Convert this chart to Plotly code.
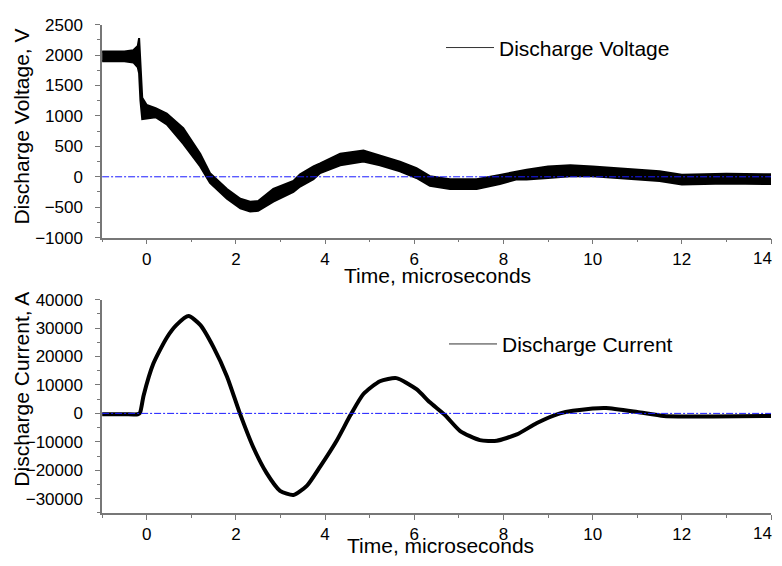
import plotly.graph_objects as go

# ---------------- data ----------------
v_time = [-1.0, -0.5, -0.3, -0.2, -0.17, -0.14, -0.1, 0.0, 0.2, 0.45, 0.82, 1.2, 1.42,
          1.8, 2.1, 2.32, 2.5, 2.84, 3.29, 3.44, 3.74, 3.89, 4.34, 4.86, 5.23, 5.68,
          6.05, 6.35, 6.8, 7.4, 7.92, 8.3, 8.52, 9.0, 9.5, 10.0, 10.5, 11.0, 11.5,
          12.0, 13.0, 14.0]
v_lower = [1900, 1900, 1880, 1800, 1700, 1250, 950, 960, 980, 860, 540, 170, -100,
           -360, -520, -570, -560, -410, -250, -160, -40, 60, 190, 250, 190, 90,
           -20, -150, -200, -200, -120, -40, -45, -20, 10, 10, -20, -45, -70,
           -125, -110, -120]
v_upper = [2060, 2060, 2080, 2150, 2280, 1750, 1300, 1180, 1130, 1040, 800, 380, 60,
           -200, -360, -410, -400, -200, -70, 40, 170, 220, 380, 430, 350, 250,
           140, 10, -40, -40, 30, 90, 115, 170, 190, 170, 140, 115, 90,
           35, 50, 40]

i_time = [-1.0, -0.5, -0.2, -0.15, -0.07, 0.15, 0.45, 0.67, 0.94, 1.2, 1.5, 1.8, 2.09,
          2.39, 2.69, 2.99, 3.29, 3.59, 3.89, 4.26, 4.57, 4.86, 5.23, 5.6, 6.05, 6.35,
          6.69, 7.03, 7.47, 7.85, 8.3, 8.75, 9.27, 10.0, 10.3, 11.0, 11.6, 12.7, 14.0]
i_current = [-300, -300, -300, 200, 6200, 17500, 26600, 31100, 34200, 31100, 23200, 13000, 0,
             -11900, -21000, -27200, -28700, -25500, -18700, -9600, -600, 6800, 11300, 12400, 8500, 3900,
             -600, -6200, -9400, -9600, -7400, -3400, 0, 1700, 1900, 500, -900, -1100, -900]

zero_time = [-1, 14]
zero_level = [0, 0]

x_ticks = [0, 2, 4, 6, 8, 10, 12, 14]
x_ticktext = ["0", "2", "4", "6", "8", "10", "12", "14"]

FONT = "Arial, Liberation Sans, sans-serif"
# page is 782x566; the body keeps its default 8px margin, so the figure is 766x550
W, H = 766, 550
OFF = 8

fig = go.Figure()

# voltage band (top)
fig.add_trace(go.Scatter(x=v_time, y=v_lower, mode="lines", line=dict(color="black", width=2),
                         showlegend=False, xaxis="x", yaxis="y", hoverinfo="skip"))
fig.add_trace(go.Scatter(x=v_time, y=v_upper, mode="lines", line=dict(color="black", width=2),
                         fill="tonexty", fillcolor="black",
                         showlegend=False, xaxis="x", yaxis="y", hoverinfo="skip"))
fig.add_trace(go.Scatter(x=zero_time, y=zero_level, mode="lines",
                         line=dict(color="#1a1aff", width=1, dash="7px,2px,2px,2px"),
                         showlegend=False, xaxis="x", yaxis="y"))
fig.add_trace(go.Scatter(x=[None], y=[None], mode="lines", name="Discharge Voltage",
                         line=dict(color="#333333", width=1), xaxis="x", yaxis="y",
                         legend="legend"))

# current (bottom)
fig.add_trace(go.Scatter(x=i_time, y=i_current, mode="lines",
                         line=dict(color="black", width=4, shape="spline", smoothing=0.6),
                         showlegend=False, xaxis="x2", yaxis="y2"))
fig.add_trace(go.Scatter(x=zero_time, y=zero_level, mode="lines",
                         line=dict(color="#1a1aff", width=1, dash="7px,2px,2px,2px"),
                         showlegend=False, xaxis="x2", yaxis="y2"))
fig.add_trace(go.Scatter(x=[None], y=[None], mode="lines", name="Discharge Current",
                         line=dict(color="#333333", width=1), xaxis="x2", yaxis="y2",
                         legend="legend2"))


def px_x(p):
    return (p - OFF) / W


def px_y(p):
    return 1 - (p - OFF) / H


axis_common = dict(
    showline=True, linecolor="#777777", linewidth=1.5, mirror=False,
    ticks="outside", ticklen=5, tickwidth=1.2, tickcolor="#777777",
    showgrid=False, zeroline=False,
    tickfont=dict(family=FONT, size=17, color="black"),
)
minor_x = dict(dtick=1, tick0=0, ticks="outside", ticklen=3, tickwidth=1, tickcolor="#777777")

xdom = [px_x(102.1), px_x(771)]

# the last x label ("14") would run past the right edge of the figure, so it is
# drawn right-aligned at the edge instead of being cut off
x_last_label = [dict(text=x_ticktext[-1], x=1.0, y=px_y(yy), xref="paper", yref="paper",
                     showarrow=False, xanchor="right", yanchor="middle",
                     font=dict(family=FONT, size=17, color="black"))
                for yy in (258, 543)]

fig.update_layout(
    width=W, height=H,
    margin=dict(l=0, r=0, t=0, b=0),
    paper_bgcolor="white", plot_bgcolor="white",
    font=dict(family=FONT, size=17, color="black"),
    xaxis=dict(domain=xdom, range=[-1, 14], anchor="y",
               tickmode="array", tickvals=x_ticks, ticktext=x_ticktext,
               minor=minor_x, ticklabelstandoff=0, **axis_common),
    yaxis=dict(domain=[px_y(236.5), px_y(16)], range=[-1000, 2500], anchor="x",
               tick0=0, dtick=500, tickformat="d", ticklabelstandoff=9,
               minor=dict(tick0=0, dtick=250, ticks="outside", ticklen=3, tickwidth=1, tickcolor="#777777"),
               **axis_common),
    xaxis2=dict(domain=xdom, range=[-1, 14], anchor="y2",
                tickmode="array", tickvals=x_ticks, ticktext=x_ticktext,
                minor=minor_x, ticklabelstandoff=0, **axis_common),
    yaxis2=dict(domain=[px_y(521.7), px_y(300.7)], range=[-35000, 40000], anchor="x2",
                tick0=0, dtick=10000, tickformat="d", ticklabelstandoff=9,
                minor=dict(tick0=0, dtick=5000, ticks="outside", ticklen=3, tickwidth=1, tickcolor="#777777"),
                **axis_common),
    legend=dict(x=px_x(441), y=px_y(40), xanchor="left", yanchor="middle",
                bgcolor="rgba(0,0,0,0)", borderwidth=0, itemwidth=48,
                font=dict(family=FONT, size=21, color="black")),
    legend2=dict(x=px_x(444), y=px_y(347), xanchor="left", yanchor="middle",
                 bgcolor="rgba(0,0,0,0)", borderwidth=0, itemwidth=48,
                 font=dict(family=FONT, size=21, color="black")),
    annotations=[
        dict(text="Time, microseconds", x=px_x(437), y=px_y(276), xref="paper", yref="paper",
             showarrow=False, xanchor="center", yanchor="middle",
             font=dict(family=FONT, size=21, color="black")),
        dict(text="Time, microseconds", x=px_x(440), y=px_y(555), xref="paper", yref="paper",
             showarrow=False, xanchor="center", yanchor="middle",
             font=dict(family=FONT, size=21, color="black")),
        dict(text="Discharge Voltage, V", x=px_x(22), y=px_y(121.5), xref="paper", yref="paper",
             showarrow=False, xanchor="center", yanchor="middle", textangle=-90,
             font=dict(family=FONT, size=21, color="black")),
        dict(text="Discharge Current, A", x=px_x(22), y=px_y(394), xref="paper", yref="paper",
             showarrow=False, xanchor="center", yanchor="middle", textangle=-90,
             font=dict(family=FONT, size=21, color="black")),
    ] + x_last_label,
)

fig.write_html("out.html", config={"displayModeBar": False})
